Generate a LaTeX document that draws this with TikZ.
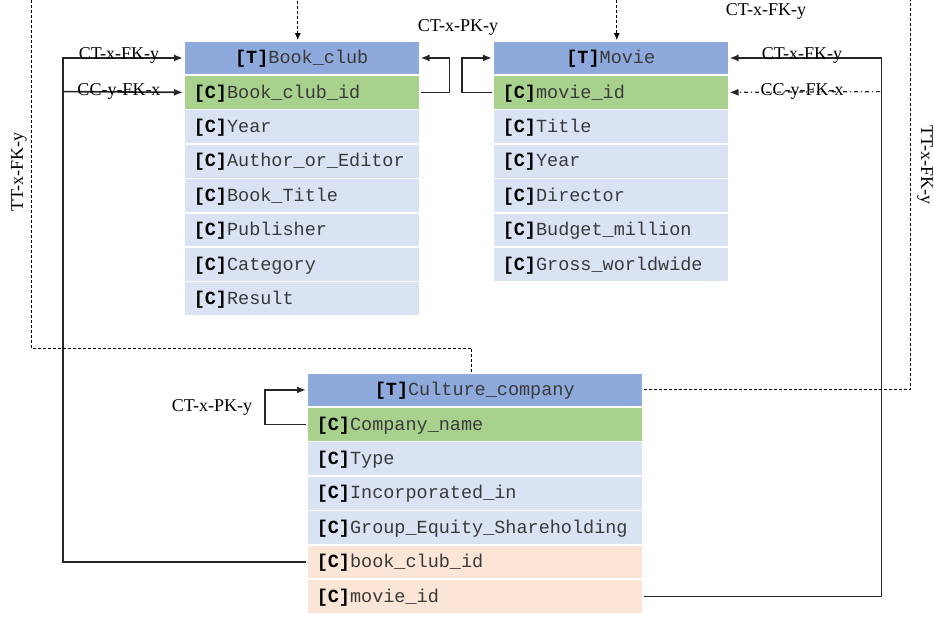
\documentclass[tikz,border=0pt]{standalone}
\usepackage{fontspec}
\setmainfont{Liberation Serif}
\newfontfamily\monof{Liberation Mono}
\usetikzlibrary{arrows.meta}
\definecolor{hdblue}{HTML}{8EA9DB}
\definecolor{pkgreen}{HTML}{A9D18E}
\definecolor{colblue}{HTML}{DAE3F3}
\definecolor{fkpeach}{HTML}{FBE5D6}
\definecolor{bordgray}{HTML}{D9D9D9}
\definecolor{linegray}{HTML}{262626}
\definecolor{txtgray}{HTML}{3A3A3A}
\tikzset{
  cell/.style={rectangle, draw=white, line width=1.5pt, minimum height=34.4pt,
    anchor=north west, inner xsep=10pt, inner ysep=0pt, font=\monof\fontsize{18.5}{20}\selectfont,
    text height=13.5pt, text depth=2pt, text=txtgray},
  w236/.style={minimum width=236pt, text width=216pt},
  w336/.style={minimum width=336pt, text width=316pt},
  hd/.style={cell, fill=hdblue, align=center},
  pk/.style={cell, fill=pkgreen, align=left},
  col/.style={cell, fill=colblue, align=left},
  fk/.style={cell, fill=fkpeach, align=left},
  rel/.style={draw=linegray, line width=1.6pt},
  tip/.style={-{Latex[length=9pt,width=7pt]}},
  ttrel/.style={draw=black, line width=1pt, dash pattern=on 3pt off 2pt, -{Latex[length=7pt,width=6pt]}},
  ddrel/.style={draw=linegray, line width=1.2pt, dash pattern=on 4pt off 3pt on 1pt off 3pt},
  lbl/.style={font=\fontsize{18}{20}\selectfont, inner sep=0pt},
  tbox/.style={draw=bordgray, line width=0.8pt}
}
\newcommand{\Cc}{\textcolor{black}{\textbf{[C]}}}
\newcommand{\Tt}{\textcolor{black}{\textbf{[T]}}}
\begin{document}
\begin{tikzpicture}[x=1pt,y=-1pt]
\useasboundingbox (0,0) rectangle (934,619);
\clip (0,0) rectangle (934,619);
\fill[white] (0,0) rectangle (934,619);
% Book_club
\draw[tbox] (183,40) rectangle (419,315.2);
\node[hd,w236] (bch) at (183,40) {\Tt Book\_club};
\node[pk,w236] (bc1) at (183,74.4) {\Cc Book\_club\_id};
\node[col,w236] (bc2) at (183,108.8) {\Cc Year};
\node[col,w236] (bc3) at (183,143.2) {\Cc Author\_or\_Editor};
\node[col,w236] (bc4) at (183,177.6) {\Cc Book\_Title};
\node[col,w236] (bc5) at (183,212) {\Cc Publisher};
\node[col,w236] (bc6) at (183,246.4) {\Cc Category};
\node[col,w236] (bc7) at (183,280.8) {\Cc Result};
% Movie
\draw[tbox] (492,40) rectangle (728,280.8);
\node[hd,w236] (mvh) at (492,40) {\Tt Movie};
\node[pk,w236] (mv1) at (492,74.4) {\Cc movie\_id};
\node[col,w236] (mv2) at (492,108.8) {\Cc Title};
\node[col,w236] (mv3) at (492,143.2) {\Cc Year};
\node[col,w236] (mv4) at (492,177.6) {\Cc Director};
\node[col,w236] (mv5) at (492,212) {\Cc Budget\_million};
\node[col,w236] (mv6) at (492,246.4) {\Cc Gross\_worldwide};
% Culture_company
\draw[tbox] (306,372) rectangle (642,612.8);
\node[hd,w336] (cch) at (306,372) {\Tt Culture\_company};
\node[pk,w336] (cc1) at (306,406.4) {\Cc Company\_name};
\node[col,w336] (cc2) at (306,440.8) {\Cc Type};
\node[col,w336] (cc3) at (306,475.2) {\Cc Incorporated\_in};
\node[col,w336] (cc4) at (306,509.6) {\Cc Group\_Equity\_Shareholding};
\node[fk,w336] (cc5) at (306,544) {\Cc book\_club\_id};
\node[fk,w336] (cc6) at (306,578.4) {\Cc movie\_id};
% left FK connectors
\coordinate (ljoin) at (63,91.6);
\draw[rel,tip] (cc5.west) -- ++(-243,0) |- (bch.west);
\draw[rel,tip] (ljoin) -- (bc1.west);
\node[lbl] at (119,55) {CT-x-FK-y};
\node[lbl] at (119,91) {CC-y-FK-x};
% right FK connectors
\coordinate (rjoin) at (880,91.6);
\draw[rel,tip] (cc6.east) -- ++(238,0) |- (mvh.east);
\draw[ddrel,tip] (rjoin) -- (mv1.east);
\node[lbl] at (802,55) {CT-x-FK-y};
\node[lbl] at (802,91) {CC-y-FK-x};
% self loops
\draw[rel,tip] (bc1.east) -- ++(29,0) |- (bch.east);
\draw[rel,tip] (mv1.west) -- ++(-30,0) |- (mvh.west);
\node[lbl] at (458,27) {CT-x-PK-y};
\draw[rel,tip] (cc1.west) -- ++(-41,0) |- (cch.west);
\node[lbl] at (212,407) {CT-x-PK-y};
% table-table dashed
\draw[ttrel] ([xshift=-3pt]cch.north) |- (31,348) -- (31,-20) -| ([xshift=-4pt]bch.north);
\draw[ttrel] (cch.east) -| (910,-20) -| ([xshift=6pt]mvh.north);
\node[lbl,rotate=90] at (19,172) {TT-x-FK-y};
\node[lbl,rotate=-90] at (925,165) {TT-x-FK-y};
\node[lbl] at (766,11) {CT-x-FK-y};
\end{tikzpicture}
\end{document}
